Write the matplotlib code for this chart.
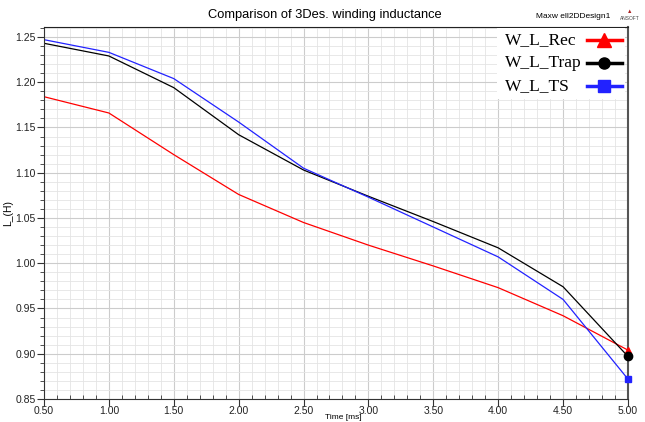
import matplotlib
matplotlib.use("Agg")
import matplotlib.pyplot as plt
from matplotlib.lines import Line2D
from matplotlib.patches import Rectangle
from matplotlib.ticker import MultipleLocator, FormatStrFormatter

time_ms = [0.5, 1.0, 1.5, 2.0, 2.5, 3.0, 3.5, 4.0, 4.5, 5.0]
w_l_rec = [1.184, 1.166, 1.120, 1.076, 1.045, 1.020, 0.997, 0.973, 0.942, 0.904]
w_l_trap = [1.243, 1.229, 1.194, 1.142, 1.103, 1.074, 1.046, 1.017, 0.974, 0.897]
w_l_ts = [1.247, 1.233, 1.204, 1.156, 1.105, 1.073, 1.040, 1.007, 0.960, 0.872]

series = [
    ("W_L_Rec", w_l_rec, "#ff0000", "^", 5),
    ("W_L_Trap", w_l_trap, "#000000", "o", 6),
    ("W_L_TS", w_l_ts, "#2222ff", "s", 4.5),
]

plt.rcParams["font.family"] = ["Liberation Sans", "DejaVu Sans"]

fig = plt.figure(figsize=(6.45, 4.22), dpi=100)
ax = fig.add_axes([0.0682, 0.0545, 0.9054, 0.8815])

for name, vals, col, mk, ms in series:
    ax.plot(time_ms, vals, color=col, lw=0.9)
    ax.plot(time_ms[-1], vals[-1], marker=mk, color=col, ms=ms, clip_on=False, zorder=5)

ax.set_xlim(0.5, 5.0)
ax.set_ylim(0.85, 1.261)
ax.xaxis.set_major_locator(MultipleLocator(0.5))
ax.xaxis.set_minor_locator(MultipleLocator(0.1))
ax.yaxis.set_major_locator(MultipleLocator(0.05))
ax.yaxis.set_minor_locator(MultipleLocator(0.01))
ax.xaxis.set_major_formatter(FormatStrFormatter("%.2f"))
ax.yaxis.set_major_formatter(FormatStrFormatter("%.2f"))
ax.grid(which="major", color="#cccccc", lw=0.8)
ax.grid(which="minor", color="#e4e4e4", lw=0.6)
ax.set_axisbelow(True)

ax.tick_params(which="major", direction="out", length=5, width=0.8, labelsize=7.5, pad=1, colors="#333333")
ax.tick_params(which="minor", direction="out", length=3, width=0.6, colors="#333333")
ax.tick_params(axis="x", which="minor", direction="in")
ax.tick_params(axis="x", which="major", pad=0.3)
ax.tick_params(labelcolor="#222222")

ax.spines["top"].set_color("#222222")
ax.spines["right"].set_color("#555555")
ax.spines["right"].set_linewidth(1.5)
ax.spines["left"].set_color("#333333")
ax.spines["bottom"].set_color("#333333")

ax.set_xlabel("Time [ms]", fontsize=6)
ax.xaxis.set_label_coords(0.512, -0.040)
ax.set_ylabel("L_(H)", fontsize=7.5)
ax.yaxis.set_label_coords(-0.052, 0.5)

fig.text(0.504, 0.964, "Comparison of 3Des. winding inductance", ha="center", va="center", fontsize=9.3)
fig.text(0.888, 0.962, "Maxw ell2DDesign1", ha="center", va="center", fontsize=6)
fig.text(0.976, 0.955, "ANSOFT", ha="center", va="center", fontsize=3.5, color="#444444")
fig.text(0.976, 0.972, "\u25b2", ha="center", va="center", fontsize=4, color="#aa2222")

# legend box drawn by hand: text left-aligned, symbol on the right
fig.add_artist(Rectangle((0.771, 0.765), 0.198, 0.168, transform=fig.transFigure,
                         facecolor="white", edgecolor="none", zorder=6))
leg_y = [0.905, 0.851, 0.796]
for (name, vals, col, mk, ms), y in zip(series, leg_y):
    fig.text(0.783, y, name, ha="left", va="center", fontsize=12.5,
             family="Liberation Serif", zorder=7)
    fig.add_artist(Line2D([0.910, 0.964], [y, y], transform=fig.transFigure,
                          color=col, lw=2.5, zorder=7))
    fig.add_artist(Line2D([0.937], [y], transform=fig.transFigure, color=col,
                          marker=mk, ms=10 if mk == "^" else 8, zorder=8))

fig.savefig("out.png", dpi=100)
